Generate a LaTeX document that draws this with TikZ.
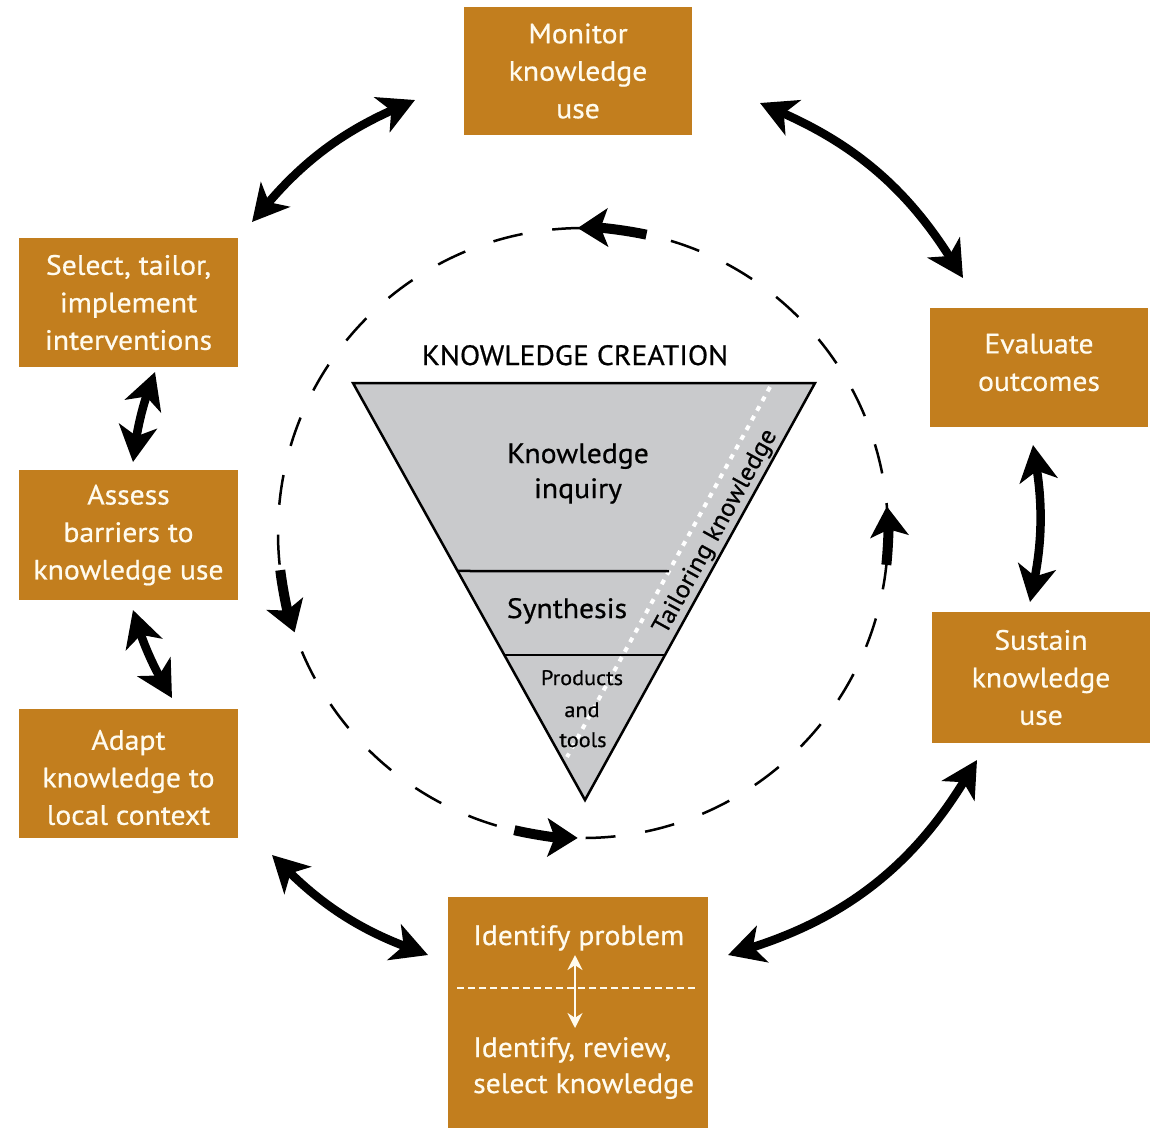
\documentclass[tikz,border=0pt]{standalone}
\usepackage{fontspec}
\setmainfont{PT Sans}[FakeStretch=1.06, FakeBold=0.6]
\usetikzlibrary{arrows.meta,calc}
\definecolor{boxc}{RGB}{194,126,30}
\definecolor{tric}{RGB}{201,202,204}
\definecolor{txtw}{RGB}{255,251,238}
\tikzset{
  box/.style={fill=boxc, inner sep=0pt, align=center, text=txtw,
    font=\fontsize{28}{37.5}\selectfont},
  btext/.style={inner sep=0pt, align=center, text=txtw, font=\fontsize{28}{37.5}\selectfont},
  ttext/.style={inner sep=0pt, align=center, text=black, font=\fontsize{28}{37}\selectfont},
  bigarrow/.style={line width=8.5pt,
    {Stealth[length=36pt,width=38pt,inset=10pt]}-{Stealth[length=36pt,width=38pt,inset=10pt]}},
  circarrow/.style={line width=10pt, -{Stealth[length=30pt,width=38pt,inset=7pt]}},
  dashcirc/.style={line width=2.5pt, dash pattern=on 30pt off 30pt},
}
\begin{document}
\begin{tikzpicture}[x=1pt,y=1pt]
\useasboundingbox (0,0) rectangle (1158,-1128);
\fill[white] (0,0) rectangle (1158,-1128);

% boxes
\node[box, minimum width=228, minimum height=128] (mon) at (578,-71) {Monitor\\knowledge\\use};
\node[box, minimum width=219, minimum height=129] (sel) at (128.5,-302.5) {Select, tailor,\\implement\\interventions};
\node[box, minimum width=219, minimum height=130] (ass) at (128.5,-535) {Assess\\barriers to\\knowledge use};
\node[box, minimum width=219, minimum height=129] (ada) at (128.5,-773.5) {};
\node[btext] (adat) at (128.5,-777.5) {Adapt\\knowledge to\\local context};
\node[box, minimum width=218, minimum height=119] (eva) at (1039,-367.5) {};
\node[btext] (evat) at (1039,-362.5) {Evaluate\\outcomes};
\node[box, minimum width=218, minimum height=131] (sus) at (1041,-677.5) {Sustain\\knowledge\\use};
\node[box, minimum width=260, minimum height=231] (ide) at (578,-1012.5) {};
\node[btext, anchor=base west] (prob) at (473,-945) {Identify problem};
\node[btext, anchor=base west] (rev) at (473,-1057) {Identify, review,};
\node[btext, anchor=base west] (selk) at (473,-1093) {select knowledge};
\draw[txtw, line width=2pt, dash pattern=on 7pt off 4pt] (457,-988) -- (695,-988);
\coordinate (wa) at (575,-955);
\coordinate (wb) at (575,-1028);
\draw[txtw, line width=2.5pt, {Stealth[length=15pt,width=15pt]}-{Stealth[length=15pt,width=15pt]}] (wa) -- (wb);

% outer arrows
\coordinate (a1s) at (415,-100);  \coordinate (a1e) at (252,-222);
\coordinate (a2s) at (963,-278);  \coordinate (a2e) at (760,-103);
\coordinate (a3s) at (155,-372);  \coordinate (a3e) at (133,-462);
\coordinate (a4s) at (133,-610);  \coordinate (a4e) at (172,-698);
\coordinate (a5s) at (272,-855);  \coordinate (a5e) at (428,-955);
\coordinate (a6s) at (728,-955);  \coordinate (a6e) at (977,-760);
\coordinate (a7s) at (1030,-602); \coordinate (a7e) at (1033,-445);
\draw[bigarrow] (a1s) to[bend right=12.8] (a1e);
\draw[bigarrow] (a2s) to[bend right=16.9] (a2e);
\draw[bigarrow] (a3s) to[bend right=5.8] (a3e);
\draw[bigarrow] (a4s) to[bend right=6.1] (a4e);
\draw[bigarrow] (a5s) to[bend right=11.9] (a5e);
\draw[bigarrow] (a6s) to[bend right=20.5] (a6e);
\draw[bigarrow] (a7s) to[bend right=10] (a7e);

% dashed circle
\coordinate (cc) at (583,-533);
\draw[dashcirc] (cc) circle[radius=305];
\draw[circarrow] (cc) ++(78:305) arc[start angle=78, end angle=91, radius=305];
\draw[circarrow] (cc) ++(187:305) arc[start angle=187, end angle=199, radius=305];
\draw[circarrow] (cc) ++(257:305) arc[start angle=257, end angle=269, radius=305];
\draw[circarrow] (cc) ++(-6:305) arc[start angle=-6, end angle=5, radius=305];

% triangle
\coordinate (tl) at (353,-383);
\coordinate (tr) at (815,-383);
\coordinate (ap) at (585,-800);
\filldraw[fill=tric, draw=black, line width=2.5pt, line join=miter] (tl) -- (tr) -- (ap) -- cycle;
\coordinate (dt) at (770,-387);
\coordinate (db) at (567,-757);
\draw[white, line width=4pt, dash pattern=on 5pt off 6pt] (dt) -- (db);
\draw[line width=2.5pt] ($(tl)!0.4508!(ap)$) -- (669,-571);
\draw[line width=2.5pt] ($(tl)!0.6523!(ap)$) -- ($(tr)!0.6523!(ap)$);

\node[ttext, anchor=base] (kc) at (575,-365) {KNOWLEDGE CREATION};
\node[ttext, anchor=base] (ki1) at (578,-463) {Knowledge};
\node[ttext, anchor=base] (ki2) at (578,-498) {inquiry};
\node[ttext, anchor=base] (syn) at (567,-618) {Synthesis};
\node[ttext, anchor=base, font=\fontsize{21}{31}\selectfont] (pr1) at (582,-685) {Products};
\node[ttext, anchor=base, font=\fontsize{21}{31}\selectfont] (pr2) at (582,-717) {and};
\node[ttext, anchor=base, font=\fontsize{21}{31}\selectfont] (pr3) at (583,-747) {tools};
\node[ttext, rotate=61, font=\fontsize{25}{30}\selectfont] (tk) at (716,-532) {Tailoring knowledge};
\end{tikzpicture}
\end{document}
